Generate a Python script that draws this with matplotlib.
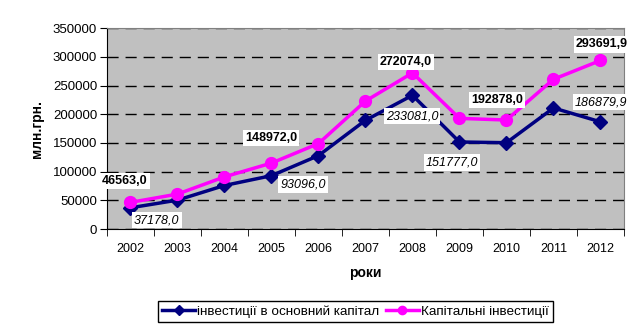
import matplotlib.pyplot as plt
from matplotlib.ticker import FixedLocator

plt.rcParams['font.family'] = ['Liberation Sans', 'DejaVu Sans']

years = ["2002", "2003", "2004", "2005", "2006", "2007", "2008", "2009", "2010", "2011", "2012"]
fixed_capital = [37178.0, 50500, 76000, 93096.0, 128000, 189500, 233081.0, 151777.0, 150500, 211000, 186879.9]
capital_inv = [46563.0, 61000, 91000, 115000, 148972.0, 223000, 272074.0, 192878.0, 190000, 261000, 293691.9]

# labelled points: (index, text position in data coords)
blue_labels = [(0, (0.56, 15700)), (3, (3.67, 77800)), (6, (5.99, 196800)), (7, (6.84, 116100)), (10, (10.01, 221100))]
pink_labels = [(0, (-0.12, 83600)), (4, (2.99, 158500)), (6, (5.86, 291300)), (7, (7.80, 224600)), (10, (10.03, 321600))]

fig = plt.figure(figsize=(6.4, 3.35), dpi=100)
ax = fig.add_axes([0.167, 0.316, 0.808, 0.600])
ax.set_facecolor("#C0C0C0")

x = list(range(len(years)))
ax.plot(x, fixed_capital, color="#000080", lw=2.5, marker="D", ms=7,
        label="інвестиції в основний капітал", zorder=3)
ax.plot(x, capital_inv, color="#FF00FF", lw=2.5, marker="o", ms=8.5,
        label="Капітальні інвестиції", zorder=3)

ax.set_xlim(-0.5, 10.5)
ax.set_ylim(0, 350000)
ax.set_yticks(range(0, 350001, 50000))
ax.set_xticks(x)
ax.set_xticklabels(years)
ax.xaxis.set_minor_locator(FixedLocator([i - 0.5 for i in range(len(years) + 1)]))
ax.tick_params(axis="x", which="major", length=0, pad=10, labelsize=9)
ax.tick_params(axis="x", which="minor", length=5, direction="out", color="black")
ax.tick_params(axis="y", length=5, direction="out", labelsize=9.5, pad=2)
ax.grid(axis="y", color="black", linestyle=(0, (8, 5)), lw=1)
ax.set_axisbelow(True)
for s in ("top", "right"):
    ax.spines[s].set_color("#808080")
for s in ("left", "bottom"):
    ax.spines[s].set_color("black")

ax.set_xlabel("роки", fontweight="bold", fontsize=10, labelpad=8)
ax.set_ylabel("млн.грн.", fontweight="bold", fontsize=10, labelpad=6)

box = dict(facecolor="white", edgecolor="none", pad=1.5)
for i, pos in blue_labels:
    ax.annotate(f"{fixed_capital[i]:.1f}".replace(".", ","), (x[i], fixed_capital[i]), xytext=pos,
                ha="center", va="center", fontsize=9, style="italic", bbox=box, zorder=4)
for i, pos in pink_labels:
    ax.annotate(f"{capital_inv[i]:.1f}".replace(".", ","), (x[i], capital_inv[i]), xytext=pos,
                ha="center", va="center", fontsize=9, fontweight="bold", bbox=box, zorder=4)

leg = fig.legend(loc="center", bbox_to_anchor=(0.556, 0.070), ncol=2, fontsize=9.7,
                 fancybox=False, edgecolor="black", framealpha=1, handlelength=2.4,
                 columnspacing=0.5, handletextpad=0.2, borderpad=0.3, markerscale=0.7)
leg.get_frame().set_linewidth(1)

fig.savefig("out.png", dpi=100)
